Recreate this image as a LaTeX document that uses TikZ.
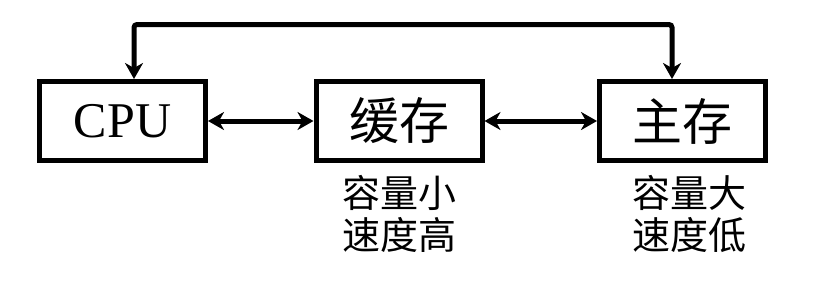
\documentclass[tikz,border=0pt]{standalone}
\usepackage{fontspec}
\setmainfont{Liberation Serif}
\newfontfamily\cjk{Noto Sans CJK SC}
\usetikzlibrary{positioning, arrows.meta}

\tikzset{
    membox/.style={draw, line width=2.5pt, minimum width=83pt,
        minimum height=39.5pt, font=\fontsize{25}{30}\selectfont\cjk},
    memnote/.style={font=\fontsize{19}{21}\selectfont\cjk, align=center},
    link/.style={line width=2.5pt, {Stealth[length=8pt, width=9pt, inset=2.5pt]}-{Stealth[length=8pt, width=9pt, inset=2.5pt]}}
}

\begin{document}
\begin{tikzpicture}[x=0.5pt, y=-0.5pt]
    \useasboundingbox (0, 0) rectangle (838, 281);
    % the three units
    \node[membox, font=\fontsize{25}{30}\selectfont] (cpu) at (122.5, 121) {CPU};
    \node[membox] (cache) at (399, 121) {缓存};
    \node[membox] (main) at (682.5, 121) {主存};
    % notes under cache and main memory
    \node[memnote, below=2.5pt of cache] (cachenote) {容量小\\速度高};
    \node[memnote, below=2.5pt of main, xshift=3.5pt] (mainnote) {容量大\\速度低};
    % links
    \coordinate (top) at (400, 24.5);
    \draw[link] (cpu) -- (cache);
    \draw[link] (cache) -- (main);
    \draw[link, rounded corners=1.5pt] ([xshift=5.75pt]cpu.north) |- (top)
        -| ([xshift=-5.25pt]main.north);
\end{tikzpicture}
\end{document}
